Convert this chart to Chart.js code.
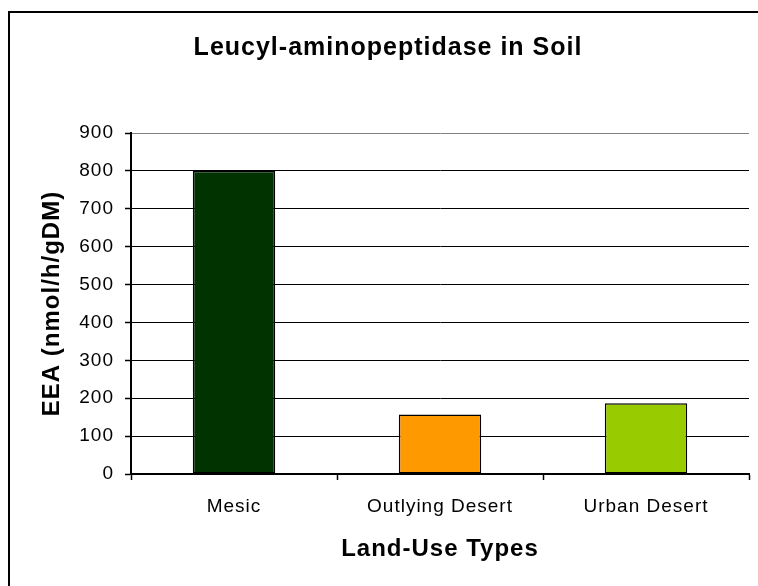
<!DOCTYPE html>
<html>
<head>
    <title>Leucyl-aminopeptidase in Soil</title>
    <script src="https://cdn.jsdelivr.net/npm/chart.js"></script>
</head>
<body style="margin: 0; background-color: #ffffff; overflow: hidden; font-family: 'Liberation Sans', Arial, sans-serif;">
    <div style="position: absolute; left: 8px; top: 11px; width: 800px; height: 640px; border-left: 2px solid #000; border-top: 2px solid #000;"></div>
    <div style="position: absolute; left: 0; top: 0; width: 751px; height: 586px;">
        <canvas id="myChart" width="751" height="586"></canvas>
    </div>

    <script>
        // Data
        var landUseTypes = ['Mesic', 'Outlying Desert', 'Urban Desert'];
        var eeaValues = [800, 157, 187];
        var barColors = ['#003300', '#ff9900', '#99cc00'];
        var yTicks = [0, 100, 200, 300, 400, 500, 600, 700, 800, 900];

        var fontFamily = "'Liberation Sans', Arial, sans-serif";
        var ctx = document.getElementById('myChart').getContext('2d');

        // the original text is a little more widely spaced than plain Arial
        var letterSpacingPlugin = {
            id: 'letterSpacing',
            beforeDraw: function (chart) {
                chart.ctx.letterSpacing = '1px';
            }
        };

        var myChart = new Chart(ctx, {
            type: 'bar',
            data: {
                labels: landUseTypes,
                datasets: [
                    {
                        label: 'EEA',
                        data: eeaValues,
                        backgroundColor: barColors,
                        borderColor: '#000000',
                        borderWidth: 1.5,
                        borderSkipped: false,
                        barPercentage: 0.4,
                        categoryPercentage: 1.0
                    }
                ]
            },
            plugins: [letterSpacingPlugin],
            options: {
                responsive: false,
                animation: false,
                layout: {
                    padding: { left: 27, right: 2, top: 0, bottom: 0 }
                },
                plugins: {
                    legend: { display: false },
                    tooltip: { enabled: false },
                    title: {
                        display: true,
                        text: 'Leucyl-aminopeptidase in Soil',
                        color: '#000000',
                        font: { family: fontFamily, size: 25, weight: 'bold', lineHeight: 1.2 },
                        padding: { top: 33, bottom: 70 }
                    }
                },
                scales: {
                    x: {
                        afterFit: function (scale) { scale.height = 112; },
                        border: { color: '#000000', width: 2 },
                        grid: {
                            offset: true,
                            tickLength: 6,
                            lineWidth: 1,
                            // only the last boundary line is drawn, as the grey right edge of the plot
                            color: function (c) { return c.index === landUseTypes.length ? '#808080' : 'rgba(0,0,0,0)'; },
                            tickColor: '#000000',
                            tickWidth: 1.5
                        },
                        ticks: {
                            color: '#000000',
                            padding: 15,
                            maxRotation: 0,
                            font: { family: fontFamily, size: 19 }
                        },
                        title: {
                            display: true,
                            text: 'Land-Use Types',
                            color: '#000000',
                            font: { family: fontFamily, size: 24, weight: 'bold', lineHeight: 1.2 },
                            padding: { top: 22, bottom: 22 }
                        }
                    },
                    y: {
                        min: 0,
                        max: 900,
                        afterFit: function (scale) { scale.width = 104; },
                        afterBuildTicks: function (scale) {
                            scale.ticks = yTicks.map(function (v) { return { value: v }; });
                        },
                        border: { color: '#000000', width: 2 },
                        grid: {
                            tickLength: 6,
                            lineWidth: 1,
                            color: function (c) { return c.tick && c.tick.value === 900 ? '#808080' : '#000000'; },
                            tickColor: '#000000',
                            tickWidth: 1.5
                        },
                        ticks: {
                            color: '#000000',
                            padding: 11,
                            font: { family: fontFamily, size: 19 }
                        },
                        title: {
                            display: true,
                            text: 'EEA (nmol/h/gDM)',
                            color: '#000000',
                            font: { family: fontFamily, size: 24, weight: 'bold', lineHeight: 1.2 },
                            padding: { top: 11, bottom: 11 }
                        }
                    }
                }
            }
        });
    </script>
</body>
</html>
